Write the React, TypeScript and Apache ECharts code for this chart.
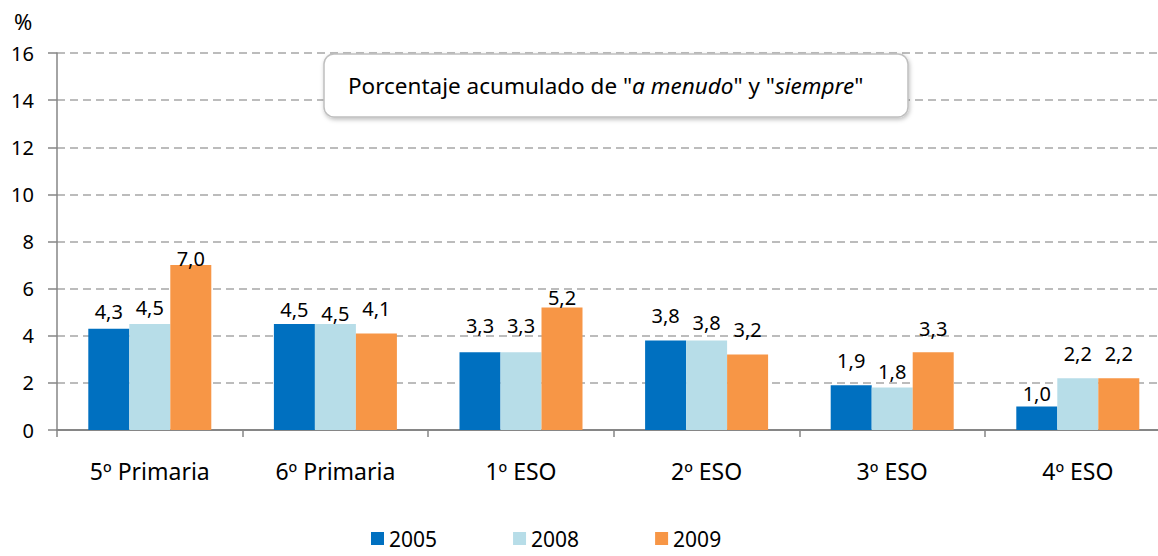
import React, { useEffect, useRef } from "react";
import * as echarts from "echarts";

const categories = ["5º Primaria", "6º Primaria", "1º ESO", "2º ESO", "3º ESO", "4º ESO"];
const seriesNames = ["2005", "2008", "2009"];
const values2005 = [4.3, 4.5, 3.3, 3.8, 1.9, 1.0];
const values2008 = [4.5, 4.5, 3.3, 3.8, 1.8, 2.2];
const values2009 = [7.0, 4.1, 5.2, 3.2, 3.3, 2.2];
const yTicks = [0, 2, 4, 6, 8, 10, 12, 14, 16];
const colors = ["#0070C0", "#B7DDE8", "#F79646"];
// label lift above bar top (px, label centre)
const lift2005 = [16.7, 14, 27, 24.5, 25, 13.4];
const lift2008 = [16, 10, 27, 17.5, 16, 25];
const lift2009 = [7, 25, 9.5, 25.6, 24, 25];

const FONT = "'Noto Sans', 'Open Sans', sans-serif";

export default function App() {
  const ref = useRef<HTMLDivElement>(null);
  useEffect(() => {
    if (!ref.current) return;
    const chart = echarts.init(ref.current, null, { renderer: "svg" });
    const all = [values2005, values2008, values2009];
    const lifts = [lift2005, lift2008, lift2009];
    const series = all.map((vals, si) => ({
      name: seriesNames[si],
      type: "bar",
      barWidth: 41,
      barGap: "0%",
      itemStyle: { color: colors[si] },
      data: vals.map((v, i) => ({
        value: v,
        label: {
          show: true,
          position: "top",
          distance: lifts[si][i] - 10,
          formatter: (p: any) => Number(p.value).toFixed(1).replace(".", ","),
          fontFamily: FONT,
          fontSize: 20,
          color: "#000",
        },
      })),
    }));
    chart.setOption({
      animation: false,
      textStyle: { fontFamily: FONT },
      grid: {
        left: 57,
        top: 53,
        height: 377,
        width: 1113.6,
        containLabel: false,
        outerBoundsMode: "none",
      },
      legend: {
        data: seriesNames,
        left: 371,
        top: 528,
        padding: 0,
        itemWidth: 13,
        itemHeight: 13,
        itemGap: 76,
        icon: "rect",
        textStyle: { fontFamily: FONT, fontSize: 21, color: "#000" },
      },
      xAxis: {
        type: "category",
        data: categories,
        axisLine: { lineStyle: { color: "#868686", width: 2 } },
        axisTick: { show: true, length: 7, interval: 0, lineStyle: { color: "#868686", width: 1.5 } },
        axisLabel: { fontFamily: FONT, fontSize: 23, color: "#000", margin: 29, interval: 0 },
      },
      yAxis: {
        type: "value",
        min: yTicks[0],
        max: yTicks[yTicks.length - 1],
        interval: 2,
        axisLine: { show: true, lineStyle: { color: "#868686", width: 1.5 } },
        axisTick: { show: true, length: 9, lineStyle: { color: "#868686", width: 1.5 } },
        axisLabel: { fontFamily: FONT, fontSize: 20, color: "#000", margin: 23 },
        splitLine: { lineStyle: { color: "#A6A6A6", width: 1.5, type: [8, 5] } },
      },
      graphic: [
        {
          type: "text",
          left: 14,
          top: 10,
          style: { text: "%", fontFamily: FONT, fontSize: 22, fill: "#000" },
        },
        {
          type: "rect",
          shape: { x: 324, y: 54, width: 584, height: 63, r: 10 },
          style: {
            fill: "#fff",
            stroke: "#BFBFBF",
            lineWidth: 1.5,
            shadowBlur: 4,
            shadowOffsetX: 1,
            shadowOffsetY: 2,
            shadowColor: "rgba(0,0,0,0.25)",
          },
          z: 100,
        },
        {
          type: "text",
          x: 348,
          y: 85,
          z: 101,
          style: {
            text: "{n|Porcentaje acumulado de \"}{i|a menudo}{n|\" y \"}{i|siempre}{n|\"}",
            verticalAlign: "middle",
            rich: {
              n: { fontFamily: FONT, fontSize: 22.5, fill: "#000" },
              i: { fontFamily: FONT, fontSize: 22.5, fontStyle: "italic", fill: "#000" },
            },
          },
        },
      ],
      series,
    });
    return () => chart.dispose();
  }, []);
  return (
    <div
      ref={ref}
      style={{ position: "fixed", left: 0, top: 0, width: 1158, height: 556, background: "#fff" }}
    />
  );
}
